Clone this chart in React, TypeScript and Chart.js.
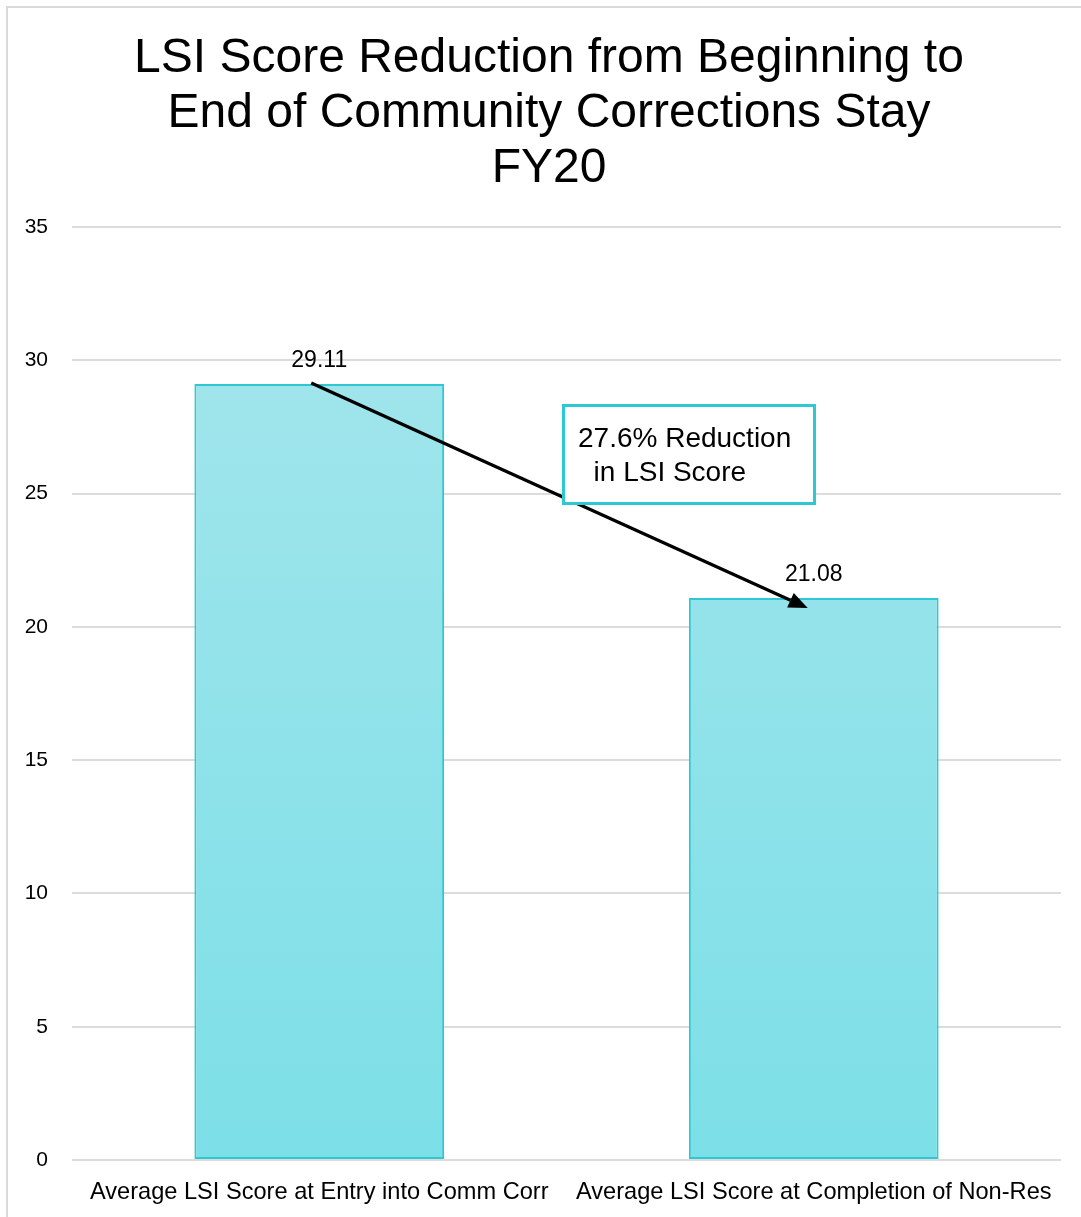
import React, { useEffect, useRef } from "react";
import { Chart, registerables } from "chart.js";

Chart.register(...registerables);

const categories = [
  "Average LSI Score at Entry into Comm Corr",
  "Average LSI Score at Completion of Non-Res",
];
const scores = [29.11, 21.08];
const valueLabels = ["29.11", "21.08"];
const yTicks = [0, 5, 10, 15, 20, 25, 30, 35];
const titleLines = [
  "LSI Score Reduction from Beginning to",
  "End of Community Corrections Stay",
  "FY20",
];
const calloutLines = ["27.6% Reduction", "  in LSI Score"];

const FONT = "'Liberation Sans', Arial, sans-serif";
const TEAL = "#2ec8d3";

const decorPlugin = {
  id: "decor",
  beforeDraw(chart: any) {
    const ctx = chart.ctx;
    ctx.save();
    ctx.fillStyle = "#ffffff";
    ctx.fillRect(0, 0, chart.width, chart.height);
    ctx.strokeStyle = "#d9d9d9";
    ctx.lineWidth = 2;
    ctx.strokeRect(7, 7, chart.width + 20, chart.height + 20);
    // title
    ctx.fillStyle = "#000000";
    ctx.font = `48px ${FONT}`;
    ctx.textAlign = "center";
    ctx.textBaseline = "middle";
    titleLines.forEach((t, i) => ctx.fillText(t, 549, 59 + i * 55));
    ctx.restore();
  },
  afterDatasetsDraw(chart: any) {
    const ctx = chart.ctx;
    const meta = chart.getDatasetMeta(0);
    const xs = chart.scales.x;
    const ys = chart.scales.y;
    ctx.save();
    // value labels
    ctx.fillStyle = "#000000";
    ctx.font = `23px ${FONT}`;
    ctx.textAlign = "center";
    ctx.textBaseline = "middle";
    meta.data.forEach((bar: any, i: number) => {
      ctx.fillText(valueLabels[i], bar.x, bar.y - 23);
    });
    // arrow
    const x0 = xs.getPixelForValue(0) - 8;
    const y0 = ys.getPixelForValue(scores[0]) - 1;
    const x1 = xs.getPixelForValue(1) - 6;
    const y1 = ys.getPixelForValue(scores[1]) + 10;
    const ang = Math.atan2(y1 - y0, x1 - x0);
    const headLen = 19;
    const headW = 8;
    const bx = x1 - headLen * Math.cos(ang);
    const by = y1 - headLen * Math.sin(ang);
    ctx.strokeStyle = "#000000";
    ctx.lineWidth = 3.2;
    ctx.beginPath();
    ctx.moveTo(x0, y0);
    ctx.lineTo(bx, by);
    ctx.stroke();
    ctx.beginPath();
    ctx.moveTo(x1, y1);
    ctx.lineTo(bx + headW * Math.sin(ang), by - headW * Math.cos(ang));
    ctx.lineTo(bx - headW * Math.sin(ang), by + headW * Math.cos(ang));
    ctx.closePath();
    ctx.fillStyle = "#000000";
    ctx.fill();
    // callout box
    const bxL = 563.5, byT = 405.5, bw = 251, bh = 98;
    ctx.fillStyle = "#ffffff";
    ctx.fillRect(bxL, byT, bw, bh);
    ctx.strokeStyle = TEAL;
    ctx.lineWidth = 3;
    ctx.strokeRect(bxL, byT, bw, bh);
    ctx.fillStyle = "#000000";
    ctx.font = `28px ${FONT}`;
    ctx.textAlign = "left";
    ctx.textBaseline = "middle";
    calloutLines.forEach((t, i) => ctx.fillText(t, 578, 439 + i * 34));
    ctx.restore();
  },
};

export default function App() {
  const ref = useRef<HTMLCanvasElement | null>(null);
  useEffect(() => {
    if (!ref.current) return;
    const chart = new Chart(ref.current, {
      type: "bar",
      data: {
        labels: categories,
        datasets: [
          {
            data: scores,
            backgroundColor: (c: any) => {
              const area = c.chart.chartArea;
              if (!area) return "#8fe2ea";
              const g = c.chart.ctx.createLinearGradient(0, area.top, 0, area.bottom);
              g.addColorStop(0, "#a6e6ec");
              g.addColorStop(1, "#7cdfe7");
              return g;
            },
            borderColor: TEAL,
            borderWidth: 2,
            borderSkipped: false,
            barPercentage: 0.505,
            categoryPercentage: 1,
          },
        ],
      },
      options: {
        animation: false,
        responsive: false,
        devicePixelRatio: 1,
        layout: { padding: { top: 227, left: 0, right: 20, bottom: 0 } },
        plugins: {
          legend: { display: false },
          tooltip: { enabled: false },
          title: { display: false },
        },
        scales: {
          x: {
            grid: { display: false },
            border: { display: false },
            ticks: {
              color: "#000000",
              font: { family: FONT, size: 23.6 },
              padding: 10,
              maxRotation: 0,
              autoSkip: false,
            },
            afterFit: (s: any) => {
              s.height = 57;
            },
          },
          y: {
            min: 0,
            max: 35,
            afterBuildTicks: (s: any) => {
              s.ticks = yTicks.map((v) => ({ value: v }));
            },
            grid: { color: "#dcdcdc", lineWidth: 2, drawTicks: false },
            border: { display: false },
            ticks: {
              color: "#000000",
              font: { family: FONT, size: 21 },
              padding: 24,
            },
            afterFit: (s: any) => {
              s.width = 72;
            },
          },
        },
      },
      plugins: [decorPlugin],
    });
    return () => chart.destroy();
  }, []);
  return (
    <div style={{ position: "absolute", left: 0, top: 0 }}>
      <canvas ref={ref} width={1081} height={1217} style={{ display: "block" }} />
    </div>
  );
}
